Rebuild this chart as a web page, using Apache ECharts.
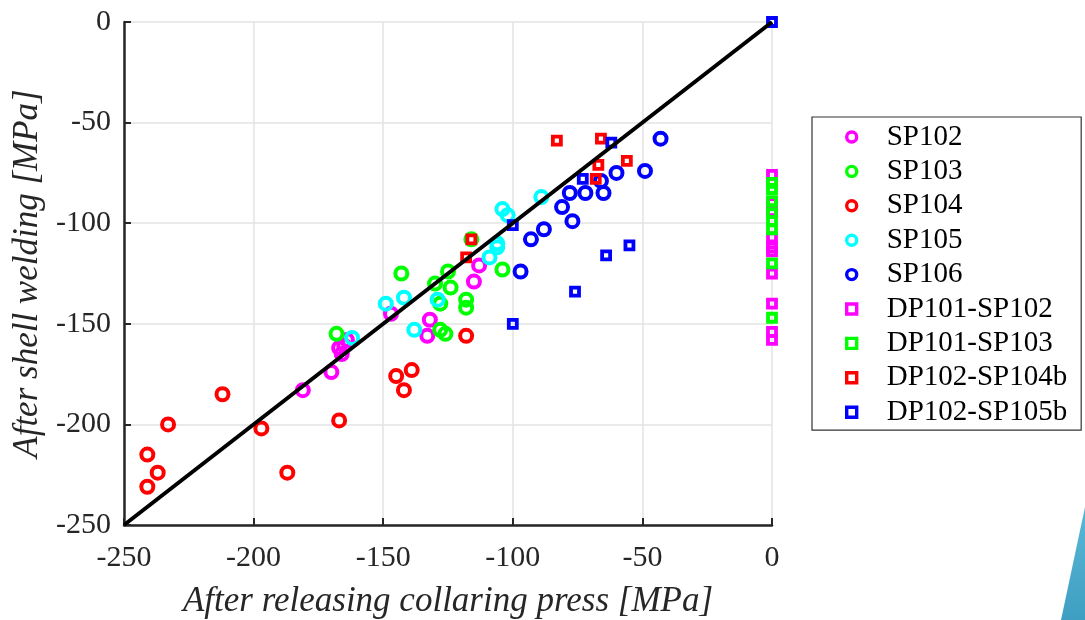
<!DOCTYPE html>
<html>
<head>
<meta charset="utf-8">
<script src="https://cdn.jsdelivr.net/npm/echarts@6/dist/echarts.min.js"></script>
<style>
html,body{margin:0;padding:0;background:#fff;}
#chart{width:1085px;height:620px;}
</style>
</head>
<body>
<div id="chart"></div>
<script>
// ---- data (x: after releasing collaring press, y: after shell welding) ----
const xTicks = [-250, -200, -150, -100, -50, 0];
const yTicks = [-250, -200, -150, -100, -50, 0];
const refLine = [[-250, -250], [0, 0]];

const SP102 = [[-181,-183],[-170,-174],[-167,-162],[-166,-165],[-165,-161],[-164,-158],[-147,-145],[-133,-156],[-132,-148],[-115,-129],[-113,-121]];
const SP103 = [[-168,-155],[-143,-125],[-130,-130],[-125,-124],[-124,-132],[-128,-140],[-118,-138],[-118,-142],[-128,-153],[-126,-155],[-116,-108],[-104,-123]];
const SP104 = [[-233,-200],[-212,-185],[-241,-215],[-237,-224],[-241,-231],[-197,-202],[-187,-224],[-167,-198],[-145,-176],[-139,-173],[-142,-183],[-118,-156]];
const SP105 = [[-162,-157],[-149,-140],[-142,-137],[-138,-153],[-129,-138],[-109,-117],[-106,-112],[-106,-110],[-104,-93],[-102,-96],[-89,-87]];
const SP106 = [[-43,-58],[-49,-74],[-60,-75],[-66,-79],[-65,-85],[-72,-85],[-78,-85],[-81,-92],[-77,-99],[-88,-103],[-93,-108],[-97,-124]];
const DP101_SP102 = [[0,-76],[0,-90],[0,-94],[0,-107],[0,-112],[0,-114],[0,-125],[0,-140],[0,-154],[0,-158]];
const DP101_SP103 = [[0,-80],[0,-83],[0,-89],[0,-95],[0,-99],[0,-103],[0,-120],[0,-147]];
const DP102_SP104b = [[-83,-59],[-66,-58],[-67,-71],[-56,-69],[-68,-78],[-116,-108],[-118,-117]];
const DP102_SP105b = [[0,0],[-62,-60],[-73,-78],[-100,-101],[-55,-111],[-64,-116],[-76,-134],[-100,-150]];

const seriesNames = ['SP102','SP103','SP104','SP105','SP106','DP101-SP102','DP101-SP103','DP102-SP104b','DP102-SP105b'];
const seriesData = [SP102, SP103, SP104, SP105, SP106, DP101_SP102, DP101_SP103, DP102_SP104b, DP102_SP105b];
const seriesColors = ['#ff00ff','#00ff00','#ff0000','#00ffff','#0000ff','#ff00ff','#00ff00','#ff0000','#0000ff'];
const seriesShapes = ['circle','circle','circle','circle','circle','rect','rect','rect','rect'];

const FONT = "'Liberation Serif','Times New Roman',serif";

const chart = echarts.init(document.getElementById('chart'), null, {renderer:'canvas'});

const scatterSeries = seriesNames.map((name, i) => {
  const isCircle = seriesShapes[i] === 'circle';
  return {
    name: name,
    type: 'scatter',
    data: seriesData[i],
    symbol: seriesShapes[i],
    symbolSize: isCircle ? 12 : 8,
    itemStyle: {
      color: 'rgba(255,255,255,0)',
      borderColor: seriesColors[i],
      borderWidth: isCircle ? 4 : 3.8,
      opacity: 1
    },
    emphasis: {disabled: true},
    z: 3
  };
});

const option = {
  backgroundColor: '#ffffff',
  animation: false,
  grid: {left: 124, right: 313, top: 22, bottom: 95, containLabel: false, outerBoundsMode: 'none'},
  xAxis: {
    type: 'value', min: -250, max: 0, interval: 50,
    name: 'After releasing collaring press [MPa]',
    nameLocation: 'middle', nameGap: 59, nameMoveOverlap: false,
    nameTextStyle: {fontFamily: FONT, fontStyle: 'italic', fontSize: 35, color: '#262626'},
    axisLine: {show: true, onZero: false, lineStyle: {color: '#262626', width: 2.5}},
    axisTick: {show: true, inside: true, length: 7, lineStyle: {color: '#262626', width: 2}},
    axisLabel: {fontFamily: FONT, fontSize: 30, color: '#262626', margin: 18,
      formatter: v => xTicks.includes(v) ? String(v) : ''},
    splitLine: {show: true, lineStyle: {color: '#e3e3e3', width: 1.5}}
  },
  yAxis: {
    type: 'value', min: -250, max: 0, interval: 50,
    name: 'After shell welding [MPa]',
    nameLocation: 'middle', nameGap: 79, nameMoveOverlap: false,
    nameTextStyle: {fontFamily: FONT, fontStyle: 'italic', fontSize: 35, color: '#262626'},
    axisLine: {show: true, onZero: false, lineStyle: {color: '#262626', width: 2.5}},
    axisTick: {show: true, inside: true, length: 7, lineStyle: {color: '#262626', width: 2}},
    axisLabel: {fontFamily: FONT, fontSize: 30, color: '#262626', margin: 13,
      formatter: v => yTicks.includes(v) ? String(v) : ''},
    splitLine: {show: true, lineStyle: {color: '#e3e3e3', width: 1.5}}
  },
  legend: {
    orient: 'vertical',
    left: 812, top: 117,
    padding: [5, 14, 3, 33],
    itemGap: 4.4,
    itemWidth: 10, itemHeight: 10,
    borderColor: '#333333', borderWidth: 1.2, borderRadius: 0,
    backgroundColor: '#ffffff',
    textStyle: {fontFamily: FONT, fontSize: 29, color: '#000000', lineHeight: 30, padding: [0, 0, 0, 25]},
    selectedMode: false,
    data: seriesNames.map((n, i) => ({
      name: n,
      icon: seriesShapes[i] === 'circle' ? 'circle' : 'rect',
      itemStyle: {color: 'rgba(255,255,255,0)', borderColor: seriesColors[i], borderWidth: 3.4}
    }))
  },
  series: scatterSeries.concat([{
    name: 'ref',
    type: 'line',
    data: refLine,
    symbol: 'none',
    lineStyle: {color: '#000000', width: 4},
    emphasis: {disabled: true},
    silent: true,
    z: 4
  }]),
  graphic: [{
    type: 'polygon',
    shape: {points: [[1085, 507], [1085, 620], [1061, 620]]},
    style: {fill: new echarts.graphic.LinearGradient(0, 0, 0, 1, [{offset: 0, color: '#5ab7d6'}, {offset: 1, color: '#3f9fc2'}])},
    silent: true
  }]
};

chart.setOption(option);
</script>
</body>
</html>
